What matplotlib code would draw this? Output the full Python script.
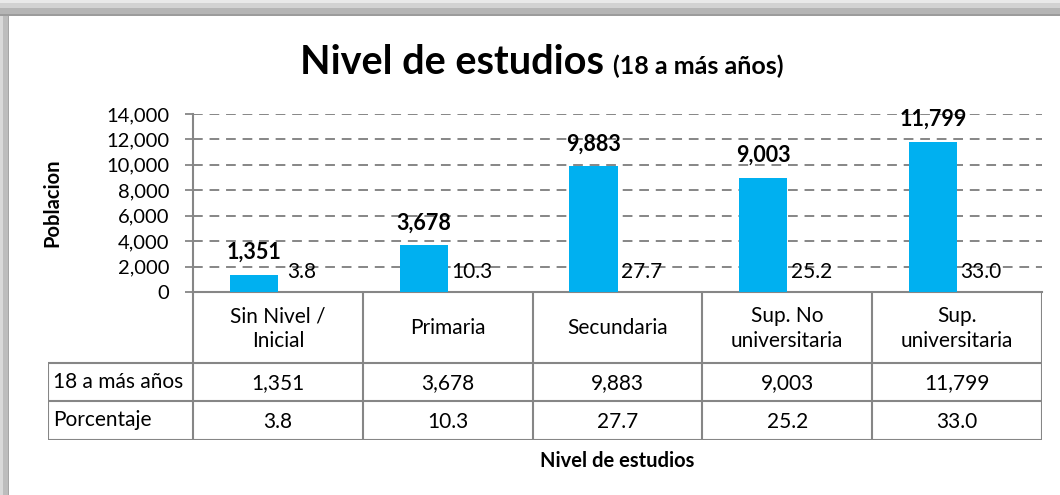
import matplotlib.pyplot as plt
from matplotlib.patches import Rectangle
import numpy as np

plt.rcParams['font.family'] = ['Lato', 'DejaVu Sans']

categorias = ['Sin Nivel /\nInicial', 'Primaria', 'Secundaria',
              'Sup. No\nuniversitaria', 'Sup.\nuniversitaria']
poblacion = [1351, 3678, 9883, 9003, 11799]
porcentaje = [3.8, 10.3, 27.7, 25.2, 33.0]
filas = ['18 a más años', 'Porcentaje']
yticks = [0, 2000, 4000, 6000, 8000, 10000, 12000, 14000]

W, H = 1060, 495
BLUE = '#00B0F0'
GRAY = '#868686'


def fx(px):
    return px / W


def fy(py):
    return 1 - py / H


fig = plt.figure(figsize=(W / 100, H / 100), dpi=100)
fig.patch.set_facecolor('white')

# gray frame (shadow) at top and left
for y0, y1, c in [(0, 3, '#e9e9e9'), (3, 8, '#d2d2d2'), (8, 14, '#b5b5b5'), (14, 16, '#9c9c9c')]:
    fig.patches.append(Rectangle((0, fy(y1)), 1, (y1 - y0) / H, transform=fig.transFigure,
                                 facecolor=c, edgecolor='none', zorder=0))
for x0, x1, c in [(0, 3, '#d9d9d9'), (3, 8, '#bdbdbd'), (8, 9, '#a5a5a5')]:
    fig.patches.append(Rectangle((fx(x0), 0), (x1 - x0) / W, fy(16), transform=fig.transFigure,
                                 facecolor=c, edgecolor='none', zorder=0))

# plot area
L, R, T, B = 193, 1042, 114, 292
ax = fig.add_axes([fx(L), fy(B), fx(R - L), (B - T) / H])
x = np.arange(len(categorias))
bw = 0.283
ax.bar(x - bw / 2, poblacion, width=bw, color=BLUE, zorder=3)
ax.set_xlim(-0.5, len(categorias) - 0.5)
ax.set_ylim(0, 14000)
ax.set_yticks(yticks)
ax.set_yticklabels([f'{v:,}' for v in yticks], fontsize=14.5)
ax.set_xticks([])
ax.yaxis.grid(True, color=GRAY, linestyle=(0, (5, 3.5)), linewidth=1.4, zorder=0)
ax.tick_params(axis='y', length=6, width=1.3, color=GRAY, pad=11)
for s in ['top', 'right']:
    ax.spines[s].set_visible(False)
for s in ['left', 'bottom']:
    ax.spines[s].set_color(GRAY)
    ax.spines[s].set_linewidth(1.5)

for xi, v in zip(x, poblacion):
    ax.annotate(f'{v:,}', (xi - bw / 2, v), xytext=(0, 11.5), textcoords='offset points',
                ha='center', va='baseline', fontsize=15.5, fontweight='bold')
for xi, p in zip(x, porcentaje):
    ax.annotate(f'{p:.1f}', (xi + bw / 2, p), xytext=(0, 10), textcoords='offset points',
                ha='center', va='baseline', fontsize=15)

ax.set_ylabel('Poblacion', fontsize=14.5, fontweight='bold')
ax.yaxis.set_label_coords((62 - L) / (R - L), 0.5)

# data table below the plot
TL, TB = 48, 440
unit = (R - L) / len(categorias)
tab = fig.add_axes([fx(TL), fy(TB), fx(R - TL), (TB - B) / H])
x_left = -0.5 - (L - TL) / unit
tab.set_xlim(x_left, len(categorias) - 0.5)
tab.set_ylim(TB - B, 0)
tab.axis('off')
r1, r2, r3 = 71, 109, 148
lw = 1.5
tab.hlines([r1, r2, r3], x_left, len(categorias) - 0.5, color=GRAY, lw=lw)
tab.vlines(np.arange(len(categorias) + 1) - 0.5, 0, r3, color=GRAY, lw=lw)
tab.vlines([x_left], r1, r3, color=GRAY, lw=lw)
fs = 15
for xi, c in zip(x, categorias):
    tab.text(xi, r1 / 2 + 1, c, ha='center', va='center', fontsize=fs, linespacing=1.3)
for xi, v, p in zip(x, poblacion, porcentaje):
    tab.text(xi, (r1 + r2) / 2 + 1, f'{v:,}', ha='center', va='center', fontsize=fs)
    tab.text(xi, (r2 + r3) / 2 + 1, f'{p:.1f}', ha='center', va='center', fontsize=fs)
for (y0, y1), name in zip([(r1, r2), (r2, r3)], filas):
    tab.text(x_left + 5 / unit, (y0 + y1) / 2, name, ha='left', va='center', fontsize=fs)

fig.text(fx((L + R) / 2), fy(461), 'Nivel de estudios', ha='center', va='center',
         fontsize=14.5, fontweight='bold')

# title: large part + smaller part after it
t1 = fig.text(fx(300), fy(74), 'Nivel de estudios', ha='left', va='baseline',
              fontsize=28.5, fontweight='bold')
fig.canvas.draw()
bb = t1.get_window_extent()
fig.text(bb.x1 / W + fx(9), fy(74), '(18 a más años)', ha='left', va='baseline',
         fontsize=18, fontweight='bold')

fig.savefig('out.png', dpi=100)
